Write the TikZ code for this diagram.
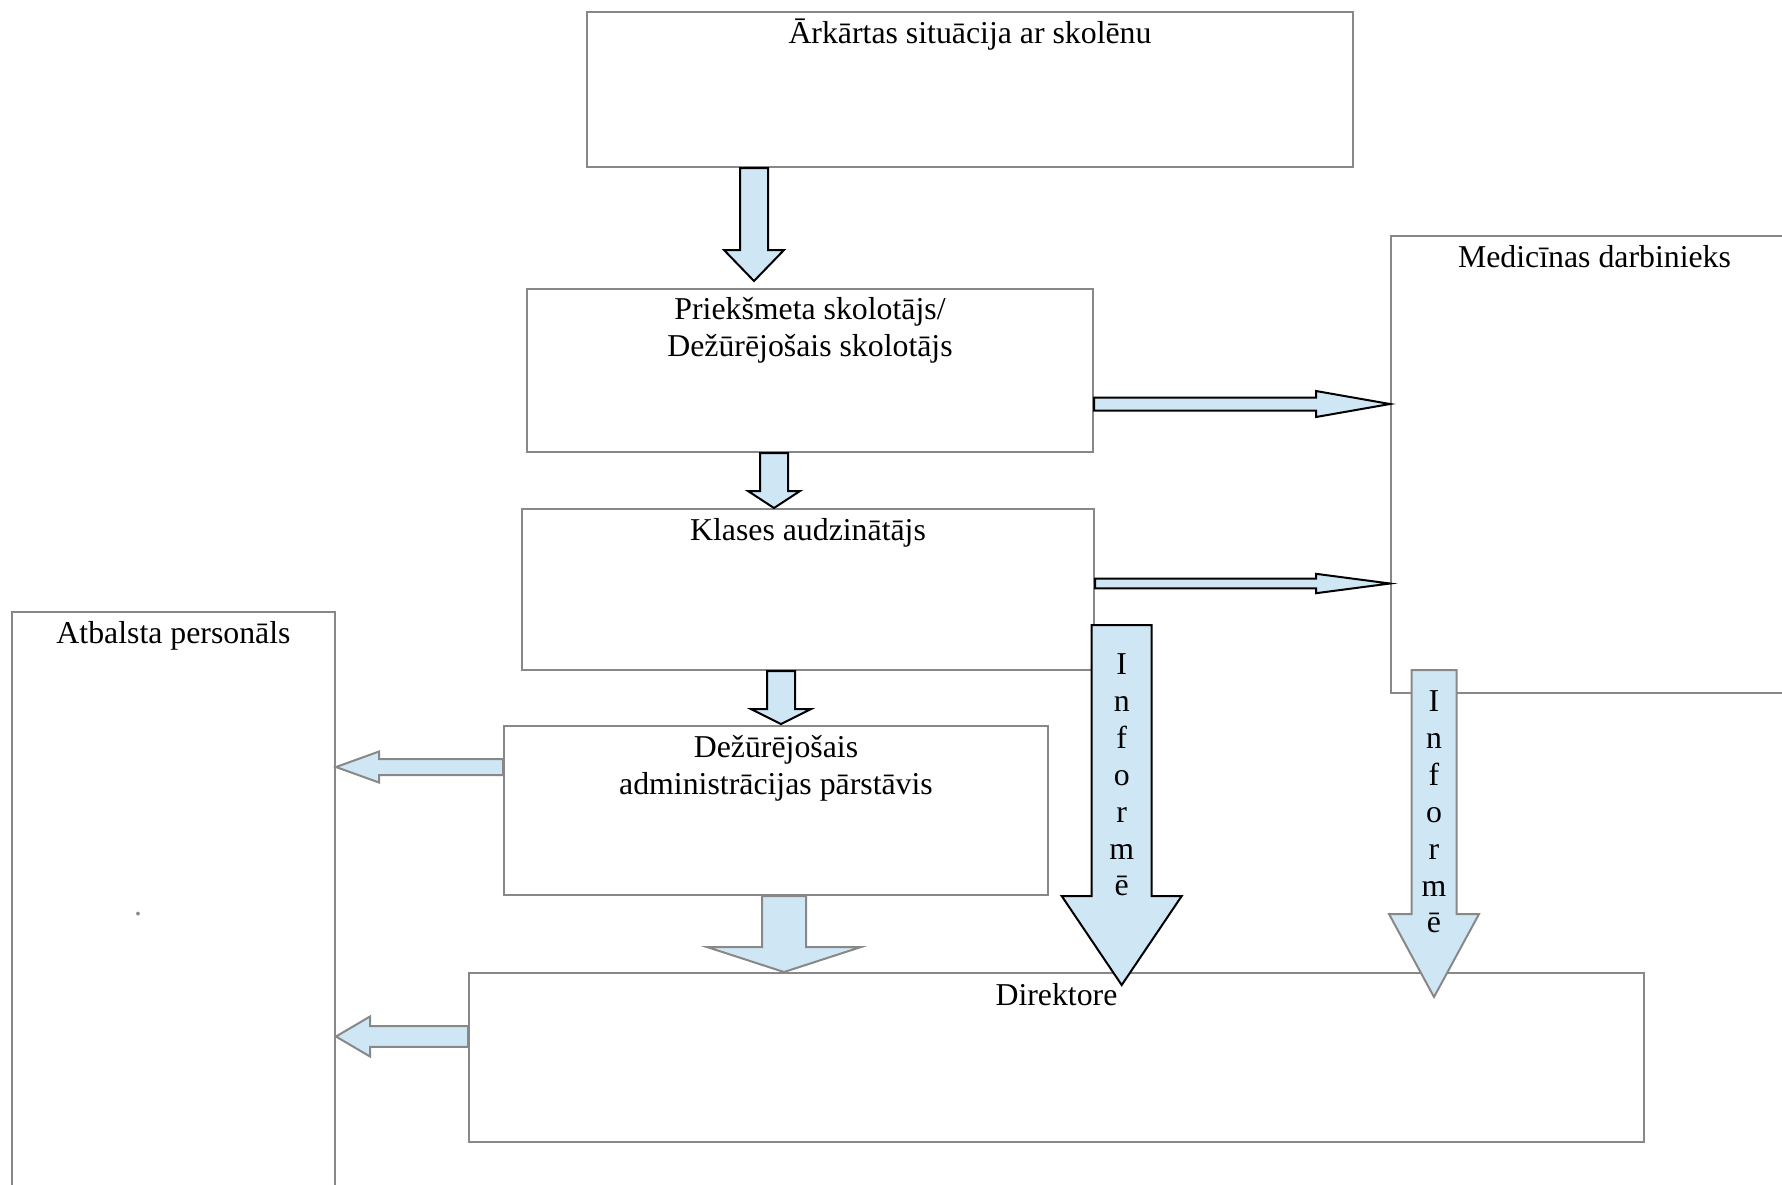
\documentclass[tikz,border=0pt]{standalone}
\usepackage{fontspec}
\setmainfont{Liberation Serif}
\usetikzlibrary{calc}
\definecolor{arrowblue}{RGB}{207,231,245}
\definecolor{framegray}{RGB}{136,136,136}
\tikzstyle{unit} = [rectangle, draw=framegray, line width=0.2mm, inner sep=0pt, anchor=north west]
\tikzstyle{title} = [anchor=base, align=center, inner sep=0pt, font=\fontsize{9.05}{10.5}\selectfont]
\tikzstyle{fat} = [fill=arrowblue, draw=black, line width=0.2mm, line join=miter]
\tikzstyle{fatgray} = [fat, draw=framegray]
\tikzset{
  fatdown/.style args={#1/#2/#3}{to path={let \p1=(\tikztostart), \p2=(\tikztotarget) in
    (\x1-#1,\y1) -- (\x1-#1,\y2+#3) -- (\x1-#2,\y2+#3) -- (\x1,\y2) -- (\x1+#2,\y2+#3) -- (\x1+#1,\y2+#3) -- (\x1+#1,\y1) -- cycle}},
  fatright/.style args={#1/#2/#3}{to path={let \p1=(\tikztostart), \p2=(\tikztotarget) in
    (\x1,\y1+#1) -- (\x2-#3,\y1+#1) -- (\x2-#3,\y1+#2) -- (\x2,\y1) -- (\x2-#3,\y1-#2) -- (\x2-#3,\y1-#1) -- (\x1,\y1-#1) -- cycle}},
  fatleft/.style args={#1/#2/#3}{to path={let \p1=(\tikztostart), \p2=(\tikztotarget) in
    (\x1,\y1+#1) -- (\x2+#3,\y1+#1) -- (\x2+#3,\y1+#2) -- (\x2,\y1) -- (\x2+#3,\y1-#2) -- (\x2+#3,\y1-#1) -- (\x1,\y1-#1) -- cycle}}
}

\begin{document}
\begin{tikzpicture}[x=0.1mm,y=-0.1mm]
  \useasboundingbox (0,0) rectangle (1782,1184);

  \node[unit, minimum width=76.6mm, minimum height=15.5mm] (situacija) at (586,11) {};
  \node[unit, minimum width=56.6mm, minimum height=16.3mm] (skolotajs) at (526,288) {};
  \node[unit, minimum width=57.2mm, minimum height=16.1mm] (audzinatajs) at (521,508) {};
  \node[unit, minimum width=54.4mm, minimum height=16.9mm] (parstavis) at (503,725) {};
  \node[unit, minimum width=117.5mm, minimum height=16.9mm] (direktore) at (468,972) {};
  \node[unit, minimum width=32.3mm, minimum height=60mm] (atbalsts) at (11,611) {};
  \node[unit, minimum width=40.7mm, minimum height=45.7mm] (medicina) at (1390,235) {};

  \coordinate (informe1-top) at (1121.7,625);
  \coordinate (informe1-tip) at (1121.7,985);
  \coordinate (informe2-top) at (1434,670);
  \coordinate (informe2-tip) at (1434,997);

  \path[fat, fatdown=1.4mm/3mm/3.1mm] ([xshift=-21.6mm]situacija.south) to ([xshift=-5.6mm,yshift=0.7mm]skolotajs.north);
  \path[fat, fatdown=1.4mm/2.6mm/1.7mm] ([xshift=-3.6mm]skolotajs.south) to ([xshift=-3.4mm]audzinatajs.north);
  \path[fat, fatdown=1.4mm/3mm/1.5mm] ([xshift=-2.7mm]audzinatajs.south) to ([xshift=0.5mm,yshift=0.1mm]parstavis.north);
  \path[fatgray, fatdown=2.2mm/7.7mm/2.5mm] ([xshift=0.8mm]parstavis.south) to ([xshift=-27mm]direktore.north);
  \path[fat, fatright=0.65mm/1.3mm/7.4mm] ([yshift=-3.35mm]skolotajs.east) to (medicina.west);
  \path[fat, fatright=0.48mm/0.97mm/7.4mm] ([yshift=0.6mm]audzinatajs.east) to (medicina.west);
  \path[fatgray, fatleft=0.8mm/1.55mm/4.3mm] ([yshift=4.35mm]parstavis.west) to (atbalsts.east);
  \path[fatgray, fatleft=1.03mm/2mm/3.4mm] ([yshift=2.1mm]direktore.west) to (atbalsts.east);
  \path[fat, fatdown=3mm/6mm/8.9mm] (informe1-top) to (informe1-tip);
  \path[fatgray, fatdown=2.25mm/4.5mm/8.3mm] (informe2-top) to (informe2-tip);

  \node[title] (situacija-t) at ([yshift=-3.2mm]situacija.north) {Ārkārtas situācija ar skolēnu};
  \node[title] (skolotajs-t) at ([yshift=-6.8mm]skolotajs.north) {Priekšmeta skolotājs/\\Dežūrējošais skolotājs};
  \node[title] (audzinatajs-t) at ([yshift=-3.2mm]audzinatajs.north) {Klases audzinātājs};
  \node[title] (parstavis-t) at ([yshift=-6.9mm]parstavis.north) {Dežūrējošais\\administrācijas pārstāvis};
  \node[title] (direktore-t) at ([yshift=-3.3mm]direktore.north) {Direktore};
  \node[title] (atbalsts-t) at ([yshift=-3.2mm]atbalsts.north) {Atbalsta personāls};
  \node[title] (medicina-t) at ([yshift=-3.2mm]medicina.north) {Medicīnas darbinieks};
  \node[title, text=framegray] (punkts) at (138,915) {.};
  \node[title, anchor=north] (informe1-t) at (1121.7,653) {I\\n\\f\\o\\r\\m\\ē};
  \node[title, anchor=north] (informe2-t) at (1434,690) {I\\n\\f\\o\\r\\m\\ē};
\end{tikzpicture}
\end{document}
